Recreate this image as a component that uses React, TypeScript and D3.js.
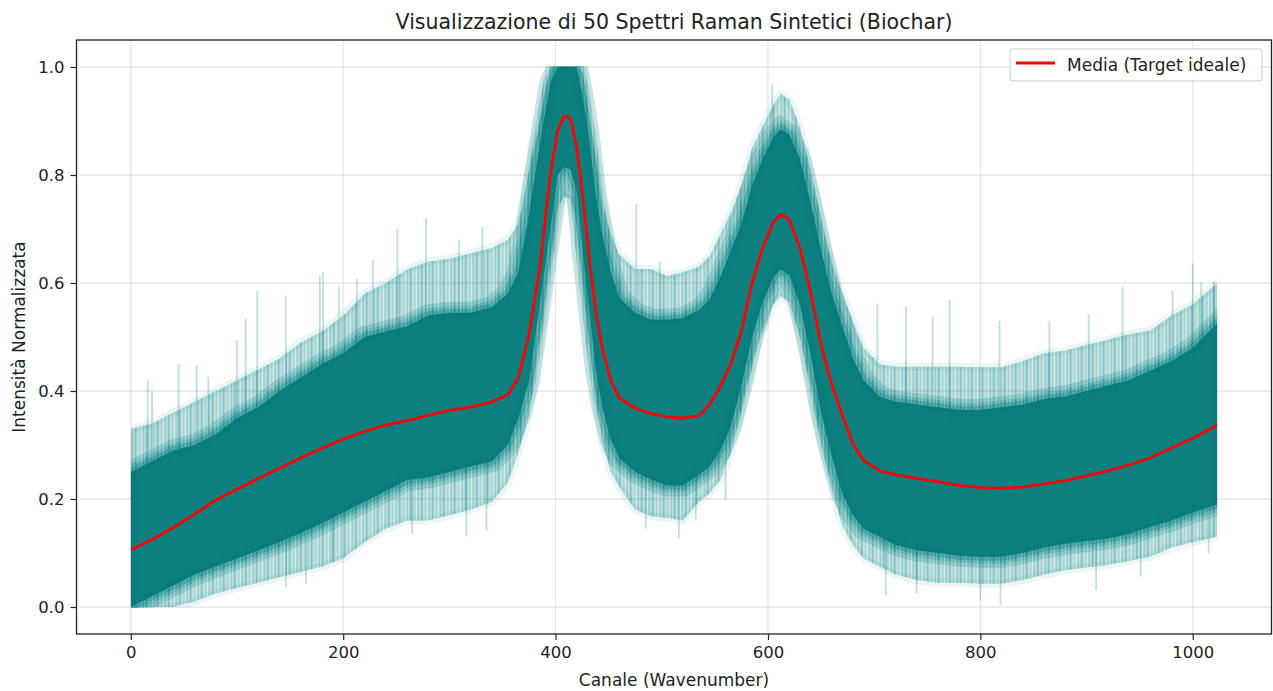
import React, { useEffect, useRef } from 'react';
import * as d3 from 'd3';

const W = 1273;
const H = 691;

const channels = [0, 20, 40, 60, 80, 100, 120, 140, 160, 180, 200, 220, 240, 260, 280, 300, 320, 340, 355, 365, 375, 385, 395, 402, 408, 414, 420, 426, 432, 438, 444, 452, 460, 475, 490, 505, 520, 535, 545, 555, 565, 575, 585, 595, 605, 612, 620, 630, 640, 650, 660, 670, 680, 690, 705, 720, 740, 760, 780, 800, 820, 840, 860, 880, 900, 920, 940, 960, 980, 1000, 1023];

// mean spectrum (red line)
const meanVals = [0.106, 0.125, 0.147, 0.172, 0.198, 0.218, 0.238, 0.257, 0.276, 0.294, 0.311, 0.325, 0.337, 0.345, 0.355, 0.364, 0.370, 0.380, 0.393, 0.425, 0.505, 0.626, 0.800, 0.882, 0.909, 0.905, 0.850, 0.752, 0.640, 0.545, 0.478, 0.420, 0.387, 0.368, 0.358, 0.352, 0.350, 0.354, 0.375, 0.408, 0.450, 0.512, 0.600, 0.665, 0.712, 0.727, 0.718, 0.665, 0.585, 0.485, 0.413, 0.355, 0.302, 0.272, 0.252, 0.245, 0.238, 0.232, 0.225, 0.221, 0.220, 0.222, 0.228, 0.234, 0.243, 0.252, 0.263, 0.276, 0.295, 0.312, 0.337];

// dense part of the 50 spectra
const coreLow = [0.00, 0.02, 0.04, 0.06, 0.075, 0.09, 0.105, 0.12, 0.137, 0.155, 0.175, 0.195, 0.215, 0.235, 0.24, 0.25, 0.26, 0.27, 0.30, 0.35, 0.42, 0.56, 0.70, 0.80, 0.815, 0.81, 0.77, 0.65, 0.545, 0.44, 0.37, 0.31, 0.276, 0.25, 0.236, 0.225, 0.225, 0.245, 0.26, 0.29, 0.335, 0.41, 0.50, 0.565, 0.61, 0.625, 0.615, 0.56, 0.47, 0.36, 0.28, 0.21, 0.17, 0.145, 0.13, 0.115, 0.105, 0.10, 0.095, 0.093, 0.093, 0.10, 0.11, 0.117, 0.122, 0.127, 0.135, 0.148, 0.16, 0.175, 0.19];
const coreHigh = [0.25, 0.27, 0.29, 0.30, 0.32, 0.35, 0.37, 0.40, 0.425, 0.45, 0.47, 0.50, 0.51, 0.52, 0.54, 0.545, 0.545, 0.555, 0.58, 0.62, 0.727, 0.855, 0.97, 1.0, 1.0, 1.0, 1.0, 0.94, 0.86, 0.76, 0.69, 0.62, 0.572, 0.545, 0.532, 0.532, 0.535, 0.55, 0.57, 0.61, 0.66, 0.71, 0.78, 0.83, 0.87, 0.885, 0.875, 0.83, 0.75, 0.66, 0.58, 0.52, 0.46, 0.42, 0.39, 0.38, 0.375, 0.37, 0.365, 0.365, 0.37, 0.375, 0.385, 0.39, 0.40, 0.41, 0.42, 0.438, 0.455, 0.48, 0.525];

// light outer fringe
const fringeLow = [0.00, 0.00, 0.00, 0.01, 0.025, 0.035, 0.045, 0.055, 0.065, 0.075, 0.09, 0.12, 0.145, 0.16, 0.16, 0.17, 0.18, 0.195, 0.23, 0.285, 0.355, 0.49, 0.63, 0.74, 0.76, 0.755, 0.71, 0.60, 0.49, 0.385, 0.305, 0.25, 0.222, 0.18, 0.168, 0.165, 0.16, 0.195, 0.21, 0.235, 0.285, 0.365, 0.45, 0.51, 0.56, 0.575, 0.565, 0.50, 0.41, 0.30, 0.22, 0.15, 0.115, 0.09, 0.075, 0.06, 0.05, 0.045, 0.045, 0.043, 0.043, 0.05, 0.06, 0.068, 0.073, 0.078, 0.085, 0.093, 0.11, 0.12, 0.13];
const fringeHigh = [0.33, 0.34, 0.36, 0.38, 0.40, 0.42, 0.44, 0.46, 0.49, 0.51, 0.54, 0.58, 0.60, 0.625, 0.64, 0.645, 0.655, 0.665, 0.68, 0.71, 0.81, 0.90, 1.0, 1.0, 1.0, 1.0, 1.0, 0.99, 0.90, 0.83, 0.75, 0.69, 0.653, 0.626, 0.626, 0.613, 0.62, 0.63, 0.65, 0.69, 0.73, 0.78, 0.85, 0.89, 0.93, 0.95, 0.94, 0.89, 0.81, 0.72, 0.64, 0.58, 0.53, 0.48, 0.45, 0.445, 0.445, 0.445, 0.445, 0.444, 0.444, 0.455, 0.47, 0.475, 0.485, 0.495, 0.505, 0.512, 0.54, 0.56, 0.60];

// tallest single spikes visible above / below the bundle: [channel, value]
const spikesUp = [[16, 0.42], [20, 0.40], [45, 0.45], [62, 0.447], [73, 0.426], [100, 0.494], [108, 0.534], [119, 0.586], [146, 0.577], [178, 0.614], [181, 0.62], [196, 0.593], [213, 0.608], [228, 0.642], [251, 0.70], [278, 0.72], [309, 0.68], [331, 0.704], [363, 0.667], [387, 0.88], [476, 0.747], [498, 0.64], [604, 0.967], [703, 0.562], [730, 0.556], [755, 0.538], [771, 0.569], [818, 0.53], [865, 0.53], [902, 0.543], [934, 0.593], [981, 0.586], [1000, 0.636], [1008, 0.602], [1020, 0.602]];
const spikesDown = [[146, 0.037], [165, 0.043], [190, 0.083], [265, 0.135], [316, 0.131], [335, 0.141], [485, 0.145], [516, 0.127], [532, 0.16], [560, 0.198], [711, 0.022], [740, 0.025], [800, 0.012], [819, 0.003], [909, 0.031], [951, 0.056], [1015, 0.1]];

const xTicks = [0, 200, 400, 600, 800, 1000];
const yTicks = [0, 0.2, 0.4, 0.6, 0.8, 1.0];

const TEAL = '#008080';
const FONT = '"DejaVu Sans", sans-serif';

function App() {
  const svgRef = useRef<SVGSVGElement>(null);

  useEffect(() => {
    const margin = { top: 40, right: 1.5, bottom: 57, left: 76.5 };
    const width = W - margin.left - margin.right;
    const height = H - margin.top - margin.bottom;

    const root = d3.select(svgRef.current);
    root.selectAll('*').remove();

    const x = d3.scaleLinear().domain([-51.15, 1074.15]).range([0, width]);
    const y = d3.scaleLinear().domain([-0.05, 1.05]).range([height, 0]);

    const defs = root.append('defs');
    // clip to the data range (channels 0..1023, values 0..1)
    defs.append('clipPath').attr('id', 'dataclip')
      .append('rect')
      .attr('x', x(channels[0])).attr('width', x(channels[channels.length - 1]) - x(channels[0]))
      .attr('y', y(1.0) - 1).attr('height', y(0) - y(1.0) + 2);

    // vertical streak texture for the overlapping translucent spectra
    const pat = defs.append('pattern').attr('id', 'streaks')
      .attr('patternUnits', 'userSpaceOnUse').attr('width', 11).attr('height', 40);
    [[0, 1.5, 0.4], [2, 1, 0.12], [3.4, 1.8, 0.5], [6, 1, 0.2], [7.6, 1.4, 0.35], [9.6, 1, 0.1]].forEach(([px, pw, op]) => {
      pat.append('rect').attr('x', px).attr('y', 0).attr('width', pw).attr('height', 40)
        .attr('fill', TEAL).attr('fill-opacity', op);
    });

    const svg = root.append('g').attr('transform', `translate(${margin.left},${margin.top})`);

    // grid
    svg.append('g').selectAll('line').data(xTicks).enter().append('line')
      .attr('x1', d => x(d)).attr('x2', d => x(d)).attr('y1', 0).attr('y2', height)
      .attr('stroke', '#b0b0b0').attr('stroke-opacity', 0.3).attr('stroke-width', 1.3);
    svg.append('g').selectAll('line').data(yTicks).enter().append('line')
      .attr('y1', d => y(d)).attr('y2', d => y(d)).attr('x1', 0).attr('x2', width)
      .attr('stroke', '#b0b0b0').attr('stroke-opacity', 0.3).attr('stroke-width', 1.3);

    const plot = svg.append('g').attr('clip-path', 'url(#dataclip)');

    const idx = d3.range(channels.length);
    const band = (lo: number[], hi: number[]) => d3.area<number>()
      .x(i => x(channels[i]))
      .y0(i => y(lo[i]))
      .y1(i => y(hi[i]));

    const meanAt = d3.scaleLinear().domain(channels).range(meanVals);

    // outer fringe: faint fill + streaks
    plot.append('path').datum(idx).attr('d', band(fringeLow, fringeHigh))
      .attr('fill', TEAL).attr('fill-opacity', 0.12)
      .attr('stroke', TEAL).attr('stroke-opacity', 0.08).attr('stroke-width', 8);
    plot.append('path').datum(idx).attr('d', band(fringeLow, fringeHigh))
      .attr('fill', 'url(#streaks)');

    // single spikes
    plot.append('g').selectAll('line').data(spikesUp.concat(spikesDown)).enter().append('line')
      .attr('x1', d => x(d[0])).attr('x2', d => x(d[0]))
      .attr('y1', d => y(meanAt(d[0]))).attr('y2', d => y(d[1]))
      .attr('stroke', TEAL).attr('stroke-opacity', 0.25).attr('stroke-width', 1.8);

    // dense core with soft edges
    const coreD = band(coreLow, coreHigh)(idx);
    plot.append('path').attr('d', coreD)
      .attr('fill', TEAL).attr('fill-opacity', 0.3)
      .attr('stroke', TEAL).attr('stroke-opacity', 0.22).attr('stroke-width', 22);
    plot.append('path').attr('d', coreD)
      .attr('fill', 'none').attr('stroke', 'url(#streaks)').attr('stroke-width', 14);
    plot.append('path').attr('d', coreD)
      .attr('fill', 'none').attr('stroke', TEAL).attr('stroke-opacity', 0.35).attr('stroke-width', 8);
    plot.append('path').attr('d', coreD)
      .attr('fill', '#077b7b').attr('fill-opacity', 0.95);

    // mean line
    plot.append('path').datum(idx)
      .attr('d', d3.line<number>().x(i => x(channels[i])).y(i => y(meanVals[i])))
      .attr('fill', 'none').attr('stroke', 'red').attr('stroke-width', 2.8)
      .attr('stroke-linejoin', 'round');

    // axes
    const xAxis = svg.append('g').attr('transform', `translate(0,${height})`)
      .call(d3.axisBottom(x).tickValues(xTicks).tickSize(6).tickPadding(6).tickFormat(d3.format('d')));
    const yAxis = svg.append('g')
      .call(d3.axisLeft(y).tickValues(yTicks).tickSize(6).tickPadding(6).tickFormat(d3.format('.1f')));
    [xAxis, yAxis].forEach(a => {
      a.select('.domain').remove();
      a.selectAll('line').attr('stroke', '#222').attr('stroke-width', 1.2);
      a.selectAll('text').attr('font-family', FONT).attr('font-size', 16.5).attr('fill', '#222');
    });

    svg.append('rect').attr('width', width).attr('height', height)
      .attr('fill', 'none').attr('stroke', '#222').attr('stroke-width', 1.3);

    // labels
    root.append('text').attr('x', margin.left + width / 2).attr('y', 29)
      .attr('text-anchor', 'middle').attr('font-family', FONT).attr('font-size', 20.5).attr('fill', '#222')
      .text('Visualizzazione di 50 Spettri Raman Sintetici (Biochar)');
    root.append('text').attr('x', margin.left + width / 2).attr('y', 686)
      .attr('text-anchor', 'middle').attr('font-family', FONT).attr('font-size', 17).attr('fill', '#222')
      .text('Canale (Wavenumber)');
    root.append('text').attr('transform', `translate(25,${margin.top + height / 2}) rotate(-90)`)
      .attr('text-anchor', 'middle').attr('font-family', FONT).attr('font-size', 17).attr('fill', '#222')
      .text('Intensità Normalizzata');

    // legend
    const lg = root.append('g').attr('transform', 'translate(1010,49)');
    lg.append('rect').attr('width', 252).attr('height', 32).attr('rx', 3)
      .attr('fill', 'white').attr('fill-opacity', 0.8).attr('stroke', '#cccccc');
    lg.append('line').attr('x1', 6).attr('x2', 45).attr('y1', 14).attr('y2', 14)
      .attr('stroke', 'red').attr('stroke-width', 2.8);
    lg.append('text').attr('x', 57).attr('y', 22).attr('font-family', FONT).attr('font-size', 17)
      .attr('fill', '#222').text('Media (Target ideale)');
  }, []);

  return (
    <div style={{ position: 'fixed', left: 0, top: 0 }}>
      <svg ref={svgRef} width={W} height={H} style={{ display: 'block', background: 'white' }}></svg>
    </div>
  );
}

export default App;
